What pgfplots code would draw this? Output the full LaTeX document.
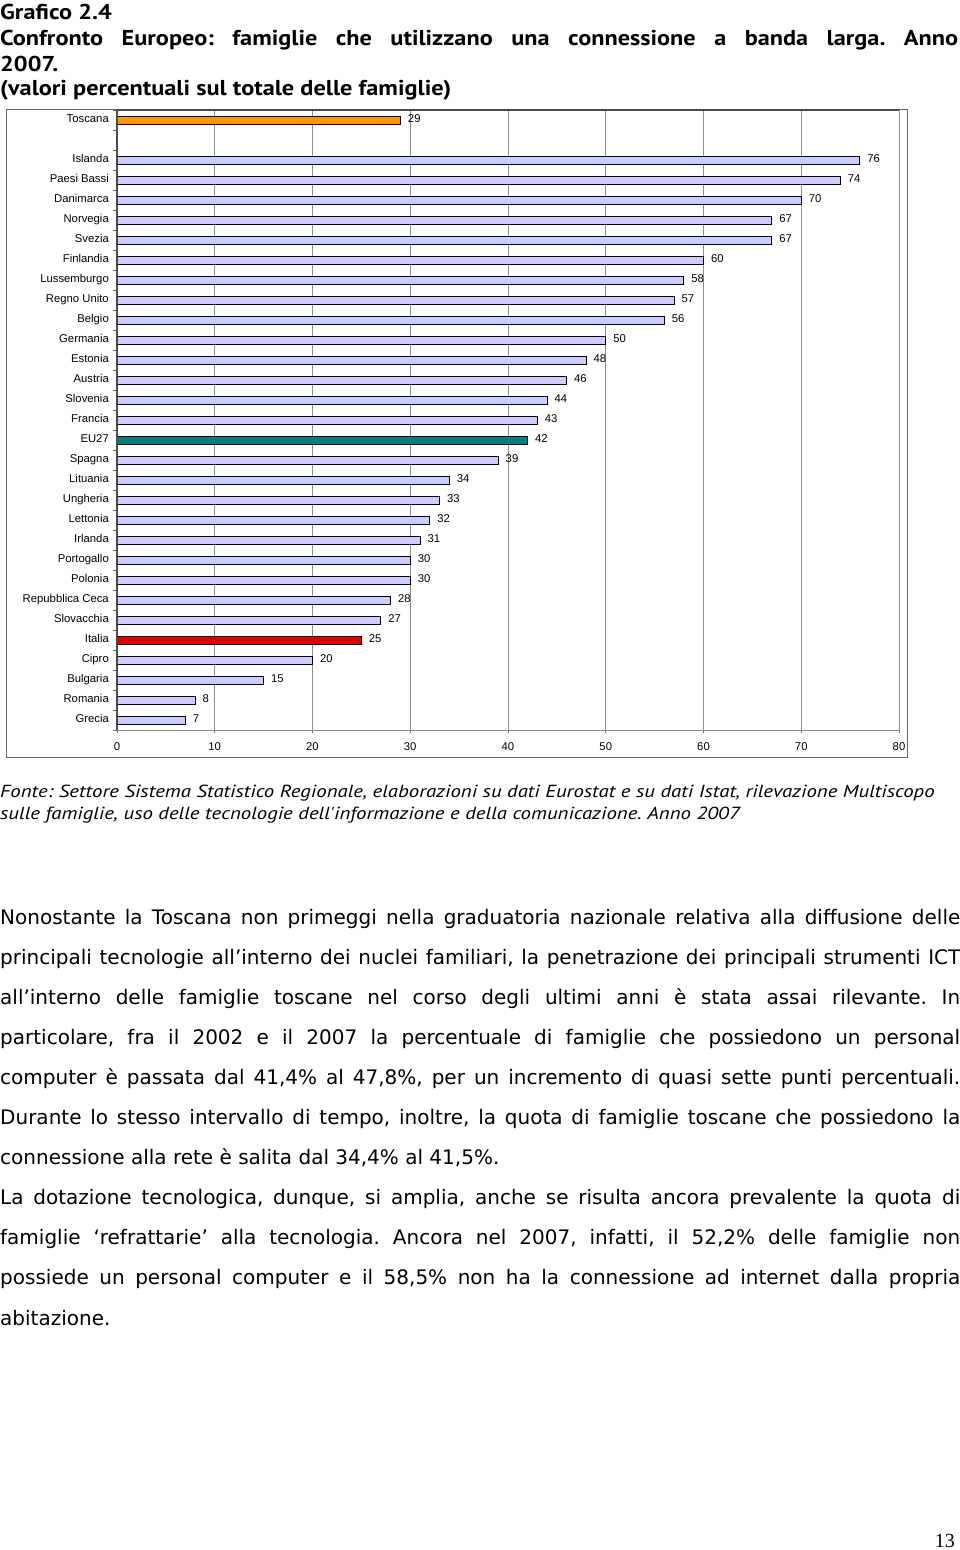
\documentclass[border=0pt]{standalone}
\usepackage{fontspec}
\setmainfont{DejaVu Sans}
\newfontfamily\titlefont[FakeStretch=1.13]{PT Sans}
\newfontfamily\fontefont[FakeStretch=1.19]{PT Sans}
\newfontfamily\chartfont{Liberation Sans}
\newfontfamily\pagefont{Liberation Serif}
\usepackage{pgfplots}
\pgfplotsset{compat=1.18}
\definecolor{barfill}{HTML}{CCCCFF}
\definecolor{tosc}{HTML}{FF9900}
\definecolor{eu}{HTML}{008080}
\definecolor{ita}{HTML}{E00000}
\newcommand{\tf}{\titlefont\bfseries\fontsize{21.5}{26}\selectfont}
\newcommand{\ff}{\fontefont\itshape\fontsize{17.5}{21}\selectfont}
\newcommand{\bodyf}{\fontsize{20}{24}\selectfont}
\frenchspacing
\begin{document}
\begin{tikzpicture}
\useasboundingbox (0,0) rectangle (960pt,-1550pt);
% Title
\node[anchor=base west, inner sep=0] at (0pt,-19pt) {\tf Grafico 2.4};
\node[anchor=base west, inner sep=0] at (0pt,-45pt) {\tf\makebox[958pt][s]{Confronto Europeo: famiglie che utilizzano una connessione a banda larga. Anno}};
\node[anchor=base west, inner sep=0] at (0pt,-71pt) {\tf 2007.};
\node[anchor=base west, inner sep=0] at (0pt,-95pt) {\tf (valori percentuali sul totale delle famiglie)};
% Chart frame
\draw[black!60, line width=1pt] (6pt,-109pt) rectangle (907pt,-757pt);
\begin{axis}[
  at={(117pt,-730pt)}, anchor=south west,
  width=782pt, height=620pt, scale only axis,
  xbar, bar width=8pt, bar shift=0pt,
  xmin=0, xmax=80, xtick={0,10,...,80},
  ymin=-0.5, ymax=30.5, y dir=reverse,
  ytick={0,...,30},
  yticklabels={Toscana,{},Islanda,Paesi Bassi,Danimarca,Norvegia,Svezia,Finlandia,Lussemburgo,Regno Unito,Belgio,Germania,Estonia,Austria,Slovenia,Francia,EU27,Spagna,Lituania,Ungheria,Lettonia,Irlanda,Portogallo,Polonia,Repubblica Ceca,Slovacchia,Italia,Cipro,Bulgaria,Romania,Grecia},
  minor ytick={-0.5,0.5,...,30.5},
  major y tick style={draw=none},
  minor tick length=4pt,
  major tick length=3pt,
  tick align=outside,
  xtick pos=bottom, ytick pos=left,
  /pgf/number format/assume math mode=true,
  tick label style={font=\chartfont\fontsize{11.3}{13}\selectfont, text height=8pt, text depth=2.5pt},
  yticklabel style={inner sep=0pt, xshift=-5pt},
  xticklabel style={inner sep=0pt, yshift=-9pt},
  xmajorgrids, major x grid style={black!45, line width=0.8pt},
  axis line style={draw=black!45, line width=1pt},
  tick style={black!60, line width=0.8pt},
  nodes near coords, nodes near coords align={horizontal},
  every node near coord/.append style={font=\chartfont\fontsize{11.3}{13}\selectfont, black, inner sep=0pt, xshift=7pt, text height=8pt, text depth=2.5pt},
  clip=false,
]
\addplot[bar shift=0pt, fill=barfill, draw=black, line width=1pt] coordinates {
 (76,2) (74,3) (70,4) (67,5) (67,6) (60,7) (58,8) (57,9) (56,10) (50,11)
 (48,12) (46,13) (44,14) (43,15) (39,17) (34,18) (33,19) (32,20) (31,21)
 (30,22) (30,23) (28,24) (27,25) (20,27) (15,28) (8,29) (7,30)};
\addplot[bar shift=0pt, fill=tosc, draw=black, line width=1pt] coordinates {(29,0)};
\addplot[bar shift=0pt, fill=eu, draw=black, line width=1pt] coordinates {(42,16)};
\addplot[bar shift=0pt, fill=ita, draw=black, line width=1pt] coordinates {(25,26)};
\draw[black!70, line width=1.2pt] (rel axis cs:0,0) -- (rel axis cs:0,1);
\draw[black!70, line width=1.2pt] (rel axis cs:0,1) -- (rel axis cs:1,1);
\end{axis}
% Source
\node[anchor=base west, inner sep=0] at (0pt,-797pt) {\ff Fonte: Settore Sistema Statistico Regionale, elaborazioni su dati Eurostat e su dati Istat, rilevazione Multiscopo};
\node[anchor=base west, inner sep=0] at (0pt,-819pt) {\ff sulle famiglie, uso delle tecnologie dell'informazione e della comunicazione. Anno 2007};
% Body text
\node[anchor=base west, inner sep=0] at (0pt,-924pt) {\bodyf\makebox[960pt][s]{Nonostante la Toscana non primeggi nella graduatoria nazionale relativa alla diffusione delle}};
\node[anchor=base west, inner sep=0] at (0pt,-964pt) {\bodyf\makebox[960pt][s]{principali tecnologie all’interno dei nuclei familiari, la penetrazione dei principali strumenti ICT}};
\node[anchor=base west, inner sep=0] at (0pt,-1004pt) {\bodyf\makebox[960pt][s]{all’interno delle famiglie toscane nel corso degli ultimi anni è stata assai rilevante. In}};
\node[anchor=base west, inner sep=0] at (0pt,-1044pt) {\bodyf\makebox[960pt][s]{particolare, fra il 2002 e il 2007 la percentuale di famiglie che possiedono un personal}};
\node[anchor=base west, inner sep=0] at (0pt,-1084pt) {\bodyf\makebox[960pt][s]{computer è passata dal 41,4\% al 47,8\%, per un incremento di quasi sette punti percentuali.}};
\node[anchor=base west, inner sep=0] at (0pt,-1124pt) {\bodyf\makebox[960pt][s]{Durante lo stesso intervallo di tempo, inoltre, la quota di famiglie toscane che possiedono la}};
\node[anchor=base west, inner sep=0] at (0pt,-1164pt) {\bodyf connessione alla rete è salita dal 34,4\% al 41,5\%.};
\node[anchor=base west, inner sep=0] at (0pt,-1204pt) {\bodyf\makebox[960pt][s]{La dotazione tecnologica, dunque, si amplia, anche se risulta ancora prevalente la quota di}};
\node[anchor=base west, inner sep=0] at (0pt,-1244pt) {\bodyf\makebox[960pt][s]{famiglie ‘refrattarie’ alla tecnologia. Ancora nel 2007, infatti, il 52,2\% delle famiglie non}};
\node[anchor=base west, inner sep=0] at (0pt,-1284pt) {\bodyf\makebox[960pt][s]{possiede un personal computer e il 58,5\% non ha la connessione ad internet dalla propria}};
\node[anchor=base west, inner sep=0] at (0pt,-1325pt) {\bodyf abitazione.};
% Page number
\node[anchor=base east, inner sep=0] at (955pt,-1547pt) {\pagefont\fontsize{20}{24}\selectfont 13};
\end{tikzpicture}
\end{document}
